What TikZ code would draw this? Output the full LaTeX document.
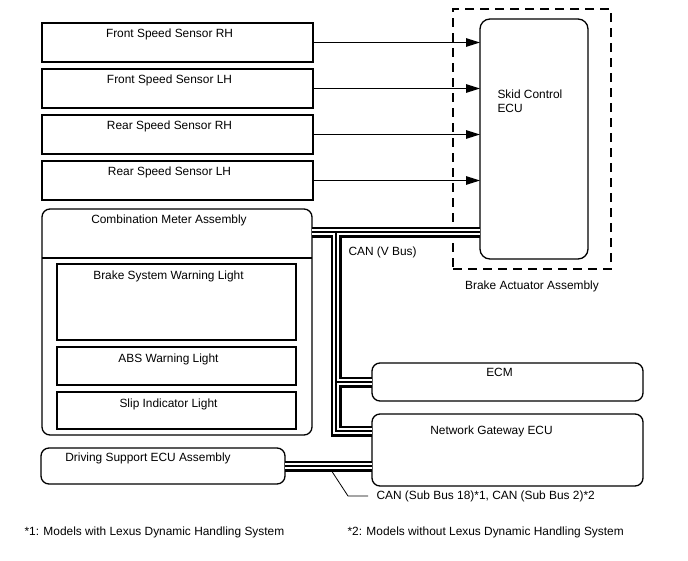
\documentclass[tikz,border=0pt]{standalone}
\usepackage{fontspec}
\setmainfont{Liberation Sans}
\usetikzlibrary{arrows.meta}

\tikzset{
        box/.style={draw, line width=1.3pt, inner sep=0pt, outer sep=0pt},
        ecu/.style={box, rounded corners=8pt},
        title/.style={anchor=north, xshift=-8pt, yshift=-2pt},
        sig/.style={line width=1.2pt, -{Triangle[length=14pt, width=8.5pt]}},
}

\begin{document}
\begin{tikzpicture}[x=1pt, y=-1pt, font=\fontsize{11.9pt}{14pt}\selectfont,
                sensor/.style={box, minimum width=271pt, minimum height=39pt},
                lamp/.style={box, minimum width=239pt}]
                \useasboundingbox (0,0) rectangle (688,560);
                \node[sensor, label={[title]north:Front Speed Sensor RH}] (FSR) at (177.5,42.5) {};
                \node[sensor, label={[title]north:Front Speed Sensor LH}] (FSL) at (177.5,88.5) {};
                \node[sensor, label={[title]north:Rear Speed Sensor RH}] (RSR) at (177.5,134.5) {};
                \node[sensor, label={[title]north:Rear Speed Sensor LH}] (RSL) at (177.5,180.5) {};

                \node[ecu, minimum width=270pt, minimum height=226pt, label={[title]north:Combination Meter Assembly}] (CMA) at (177,322) {};
                \draw[line width=1.3pt] ([yshift=-49pt]CMA.north west) -- ([yshift=-49pt]CMA.north east);
                \node[lamp, minimum height=76pt, label={[title, yshift=-1pt]north:Brake System Warning Light}] (BSW) at (176.5,302) {};
                \node[lamp, minimum height=38pt, label={[title, yshift=-1pt]north:ABS Warning Light}] (ABS) at (176.5,366) {};
                \node[lamp, minimum height=37pt, label={[title, yshift=-1pt]north:Slip Indicator Light}] (SIL) at (176.5,410.5) {};

                \node[box, dashed, line width=1.5pt, dash pattern=on 9pt off 6pt, minimum width=158pt, minimum height=260pt,
                        label={[anchor=north, yshift=-8pt]south:Brake Actuator Assembly}] (BAA) at (532,139) {};
                \node[ecu, rounded corners=10pt, minimum width=108pt, minimum height=240pt,
                        label={[anchor=north west, align=left, xshift=14pt, yshift=-67pt]north west:Skid Control\\ECU}] (SKID) at (534,139) {};

                \node[ecu, minimum width=271pt, minimum height=38pt, label={[title]north:ECM}] (ECM) at (507.5,382) {};
                \node[ecu, minimum width=271pt, minimum height=72pt, label={[title, xshift=-8pt, yshift=-6pt]north:Network Gateway ECU}] (NGW) at (507.5,450) {};
                \node[ecu, minimum width=244pt, minimum height=36pt, label={[title, xshift=-7pt, yshift=1pt]north:Driving Support ECU Assembly}] (DSU) at (163,466) {};

                \node[anchor=west] (VBUS) at (345,252) {CAN (V Bus)};
                \node[anchor=west] (SUB) at (373,496) {CAN (Sub Bus 18)*1, CAN (Sub Bus 2)*2};
                \node[anchor=west] (NOTE1) at (21,532) {*1: Models with Lexus Dynamic Handling System};
                \node[anchor=west] (NOTE2) at (344,532) {*2: Models without Lexus Dynamic Handling System};

                \draw[sig] (FSR.east) -- (FSR -| SKID.west);
                \draw[sig] (FSL.east) -- (FSL -| SKID.west);
                \draw[sig] (RSR.east) -- (RSR -| SKID.west);
                \draw[sig] (RSL.east) -- (RSL -| SKID.west);

                \coordinate (VB) at (336,232);
                \coordinate (GWIN) at ([yshift=19pt]NGW.west);
                \foreach \w/\c in {11pt/black, 6pt/white, 1.2pt/black}
                        \draw[line width=\w, \c, line join=miter] (VB -| CMA.east) -- (VB -| SKID.west)
                                (VB) -- (VB |- GWIN) -- (GWIN)
                                (VB |- ECM.west) -- (ECM.west)
                                (DSU.east) -- (DSU.east -| NGW.west);

                \coordinate (TAP) at (332,471.5);
                \draw[line width=0.8pt] (TAP) -- ([xshift=-25pt]SUB.west) -- ([xshift=-5pt]SUB.west);
\end{tikzpicture}
\end{document}
